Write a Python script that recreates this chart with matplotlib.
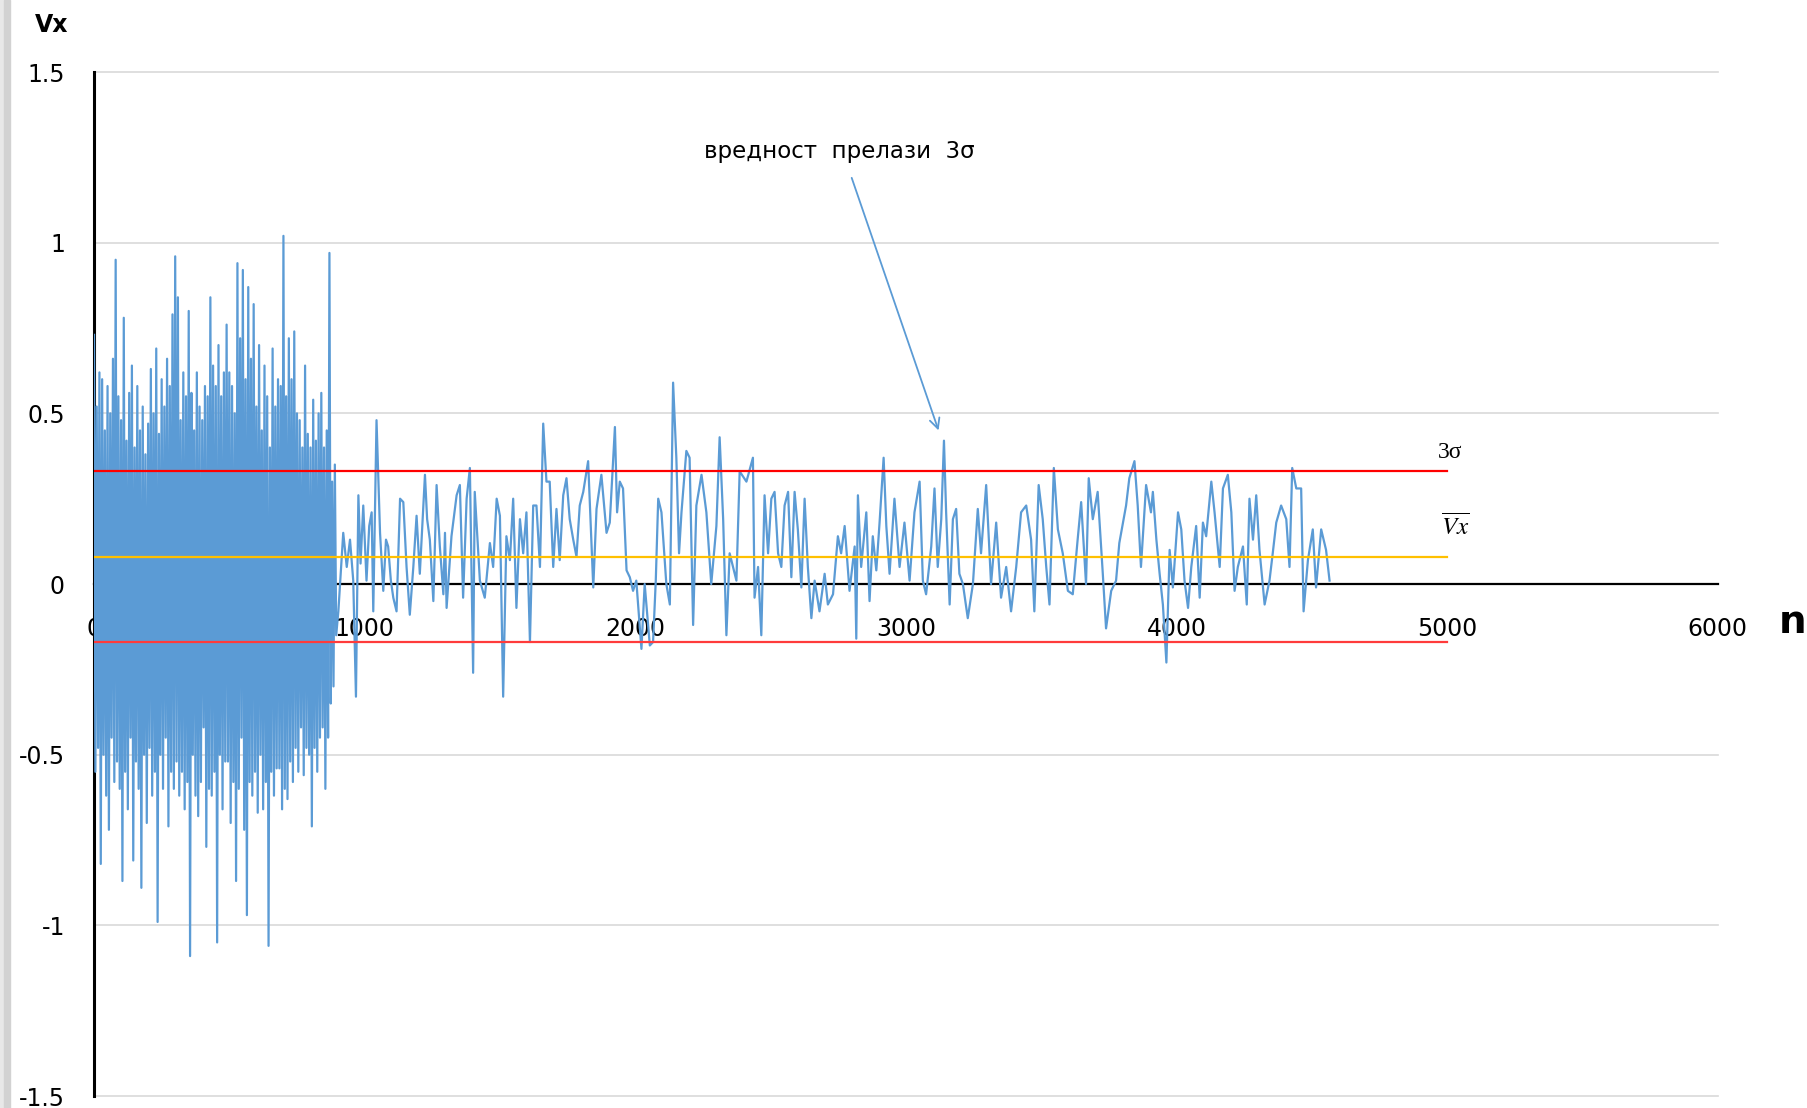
import matplotlib
matplotlib.use("Agg")
import matplotlib.pyplot as plt
from matplotlib.patches import Rectangle

plt.rcParams['axes.unicode_minus'] = False
plt.rcParams['mathtext.fontset'] = 'stix'

# dense start of the record: one reading every 5 samples (n = 0, 5, ... 895)
n_burst = list(range(0, 900, 5))
vx_burst = [
    0.73, -0.55, 0.52, -0.48, 0.62, -0.82, 0.60, -0.50, 0.45, -0.62, 0.58, -0.72, 0.50, -0.45, 0.66, -0.58, 0.95, -0.52, 0.55, -0.60,
    0.48, -0.87, 0.78, -0.55, 0.42, -0.66, 0.56, -0.45, 0.64, -0.81, 0.40, -0.52, 0.58, -0.60, 0.45, -0.89, 0.52, -0.50, 0.38, -0.70,
    0.47, -0.48, 0.63, -0.62, 0.50, -0.55, 0.69, -0.99, 0.44, -0.50, 0.60, -0.60, 0.52, -0.45, 0.66, -0.71, 0.58, -0.55, 0.79, -0.60,
    0.96, -0.52, 0.84, -0.62, 0.48, -0.55, 0.62, -0.66, 0.55, -0.58, 0.80, -1.09, 0.56, -0.50, 0.45, -0.62, 0.62, -0.68, 0.52, -0.58,
    0.48, -0.42, 0.58, -0.77, 0.55, -0.60, 0.84, -0.62, 0.64, -0.55, 0.58, -1.05, 0.70, -0.50, 0.55, -0.66, 0.62, -0.52, 0.76, -0.52,
    0.62, -0.70, 0.58, -0.58, 0.50, -0.87, 0.94, -0.60, 0.72, -0.45, 0.92, -0.72, 0.60, -0.97, 0.87, -0.58, 0.66, -0.62, 0.82, -0.55,
    0.52, -0.67, 0.70, -0.50, 0.45, -0.66, 0.64, -0.58, 0.55, -1.06, 0.40, -0.55, 0.69, -0.62, 0.52, -0.54, 0.60, -0.54, 0.58, -0.66,
    1.02, -0.60, 0.55, -0.63, 0.72, -0.52, 0.60, -0.58, 0.74, -0.48, 0.50, -0.55, 0.48, -0.42, 0.40, -0.56, 0.64, -0.48, 0.44, -0.50,
    0.40, -0.71, 0.54, -0.48, 0.42, -0.55, 0.50, -0.45, 0.56, -0.42, 0.40, -0.60, 0.45, -0.45, 0.97, -0.35, 0.30, -0.30, 0.35, -0.15,
]

# calmer part of the record (n >= 900)
n_calm = [903, 921, 934, 946, 958, 968, 977, 985, 995, 1007, 1017, 1026, 1032, 1044, 1057, 1069, 1079, 1087, 1097, 1106,
          1118, 1131, 1143, 1155, 1167, 1180, 1192, 1204, 1223, 1231, 1241, 1254, 1266, 1278, 1291, 1297, 1303, 1321, 1340, 1352,
          1364, 1377, 1389, 1401, 1407, 1426, 1444, 1463, 1475, 1488, 1500, 1512, 1524, 1537, 1549, 1561, 1574, 1586, 1598, 1611,
          1623, 1635, 1648, 1660, 1672, 1684, 1697, 1709, 1721, 1734, 1746, 1758, 1771, 1783, 1795, 1808, 1826, 1845, 1857, 1875,
          1894, 1906, 1925, 1933, 1943, 1955, 1968, 1980, 1992, 2004, 2023, 2035, 2054, 2066, 2076, 2085, 2097, 2115, 2128, 2140,
          2152, 2162, 2171, 2189, 2201, 2214, 2226, 2245, 2263, 2281, 2300, 2312, 2325, 2337, 2349, 2374, 2386, 2411,
          2435, 2441, 2454, 2466, 2478, 2491, 2503, 2515, 2528, 2540, 2552, 2565, 2577, 2589, 2601, 2614, 2626, 2638, 2651, 2663,
          2681, 2700, 2712, 2731, 2749, 2761, 2774, 2792, 2811, 2817, 2823, 2835, 2854, 2866, 2878, 2891, 2903, 2918, 2928, 2940,
          2958, 2977, 2995, 3014, 3032, 3051, 3063, 3075, 3094, 3106, 3118, 3131, 3141, 3149, 3162, 3174, 3186, 3198, 3211, 3229,
          3248, 3266, 3278, 3297, 3315, 3334, 3352, 3371, 3389, 3408, 3426, 3445, 3463, 3475, 3491, 3506, 3519, 3531, 3547, 3562,
          3580, 3599, 3617, 3635, 3648, 3666, 3676, 3691, 3709, 3728, 3740, 3759, 3777, 3789, 3814, 3826, 3845, 3857, 3869, 3888, 3906,
          3913, 3926, 3938, 3950, 3963, 3975, 3987, 4006, 4018, 4030, 4043, 4055, 4073, 4086, 4098, 4110, 4129, 4141, 4160, 4172,
          4190, 4203, 4215, 4227, 4246, 4260, 4270, 4283, 4295, 4307, 4326, 4344, 4356, 4369, 4387, 4406, 4418, 4428, 4443, 4461,
          4470, 4486, 4504, 4516, 4535, 4553, 4566]
vx_calm = [-0.08, 0.15, 0.05, 0.13, 0.01, -0.33, 0.26, 0.06, 0.23, 0.01, 0.17, 0.21, -0.08, 0.48, 0.15, -0.02, 0.13, 0.11, 0.01, -0.04,
           -0.08, 0.25, 0.24, 0.05, -0.09, 0.05, 0.20, 0.03, 0.32, 0.19, 0.13, -0.05, 0.29, 0.11, -0.03, 0.15, -0.07, 0.14, 0.26, 0.29,
           -0.04, 0.25, 0.34, -0.26, 0.27, 0.01, -0.04, 0.12, 0.05, 0.25, 0.20, -0.33, 0.14, 0.07, 0.25, -0.07, 0.19, 0.09, 0.21, -0.17,
           0.23, 0.23, 0.05, 0.47, 0.30, 0.30, 0.05, 0.22, 0.07, 0.26, 0.31, 0.19, 0.13, 0.08, 0.23, 0.27, 0.36, -0.01, 0.22, 0.32,
           0.15, 0.18, 0.46, 0.21, 0.30, 0.28, 0.04, 0.02, -0.02, 0.01, -0.19, 0.00, -0.18, -0.17, 0.01, 0.25, 0.21, 0.00, -0.06, 0.59,
           0.37, 0.09, 0.21, 0.39, 0.37, -0.12, 0.23, 0.32, 0.21, 0.00, 0.17, 0.43, 0.19, -0.15, 0.09, 0.01, 0.33, 0.30,
           0.37, -0.04, 0.05, -0.15, 0.26, 0.09, 0.25, 0.27, 0.09, 0.05, 0.23, 0.27, 0.02, 0.27, 0.16, -0.01, 0.25, 0.05, -0.10, 0.01,
           -0.08, 0.03, -0.06, -0.03, 0.14, 0.09, 0.17, -0.02, 0.11, -0.16, 0.26, 0.05, 0.21, -0.05, 0.14, 0.04, 0.18, 0.37, 0.17, 0.03,
           0.25, 0.05, 0.18, 0.01, 0.21, 0.30, 0.01, -0.03, 0.11, 0.28, 0.05, 0.19, 0.42, 0.21, -0.06, 0.19, 0.22, 0.03, 0.00, -0.10,
           0.00, 0.22, 0.09, 0.29, 0.00, 0.18, -0.04, 0.05, -0.08, 0.05, 0.21, 0.23, 0.13, -0.08, 0.29, 0.19, 0.05, -0.06, 0.34, 0.16,
           0.09, -0.02, -0.03, 0.13, 0.24, 0.00, 0.31, 0.19, 0.27, 0.03, -0.13, -0.02, 0.01, 0.12, 0.23, 0.31, 0.36, 0.23, 0.05, 0.29, 0.21,
           0.27, 0.13, 0.03, -0.06, -0.23, 0.10, -0.01, 0.21, 0.16, 0.01, -0.07, 0.05, 0.17, -0.04, 0.18, 0.14, 0.30, 0.21, 0.05, 0.28,
           0.32, 0.21, -0.02, 0.05, 0.11, -0.06, 0.25, 0.13, 0.26, 0.10, -0.06, 0.01, 0.09, 0.18, 0.23, 0.19, 0.05, 0.34, 0.28, 0.28,
           -0.08, 0.07, 0.16, -0.01, 0.16, 0.10, 0.01]

assert len(n_burst) == len(vx_burst), (len(n_burst), len(vx_burst))
assert len(n_calm) == len(vx_calm), (len(n_calm), len(vx_calm))

mean_vx = 0.08
three_sigma = 0.25
limit_end = 5000
peak_n, peak_vx = 3141, 0.42

x_ticks = [0, 1000, 2000, 3000, 4000, 5000, 6000]
y_ticks = [-1.5, -1, -0.5, 0, 0.5, 1, 1.5]
y_labels = ['-1.5', '-1', '-0.5', '0', '0.5', '1', '1.5']

n_all = n_burst + n_calm
vx_all = vx_burst + vx_calm

fig = plt.figure(figsize=(18.08, 11.08), dpi=100)
ax = fig.add_axes([0.052, 0.0108, 0.898, 0.9242])

ax.plot(n_all, vx_all, color='#5b9bd5', lw=1.6, zorder=3)
ax.plot([0, limit_end], [mean_vx + three_sigma] * 2, color='#ff0000', lw=1.6, zorder=4)
ax.plot([0, limit_end], [mean_vx - three_sigma] * 2, color='#ff3b3b', lw=1.6, zorder=4)
ax.plot([0, limit_end], [mean_vx] * 2, color='#ffc000', lw=1.6, zorder=4)

ax.set_xlim(0, 6000)
ax.set_ylim(-1.5, 1.5)
ax.set_xticks(x_ticks)
ax.set_xticklabels([str(t) for t in x_ticks])
ax.set_yticks(y_ticks)
ax.set_yticklabels(y_labels)

for s in ['top', 'right']:
    ax.spines[s].set_visible(False)
ax.spines['bottom'].set_position(('data', 0))
ax.spines['bottom'].set_linewidth(1.6)
ax.spines['bottom'].set_zorder(2)
ax.spines['left'].set_linewidth(2.2)

ax.tick_params(length=0, labelsize=17)
ax.tick_params(axis='x', pad=24)
ax.tick_params(axis='y', pad=21)
ax.grid(axis='y', color='#d9d9d9', lw=1.2)
ax.set_axisbelow(True)
for gl in ax.get_ygridlines():
    gl.set_clip_on(False)

# labels on the limit lines
ax.text(limit_end + 10, 0.385, '3σ', family='Liberation Serif', fontsize=17,
        ha='center', va='center')
ax.text(limit_end + 30, 0.17, r'$\overline{Vx}$', fontsize=18,
        ha='center', va='center')

# note pointing at the largest excursion
ax.text(2756, 1.266, 'вредност  прелази  3σ', fontsize=16.5, ha='center', va='center')
ax.annotate('', xy=(peak_n - 20, peak_vx + 0.03), xytext=(2800, 1.19),
            arrowprops=dict(arrowstyle='->', color='#5b9bd5', lw=1.3,
                            shrinkA=0, shrinkB=0, mutation_scale=18))

fig.text(52 / 1808, 1 - 25 / 1108, 'Vx', fontsize=17, fontweight='bold',
         ha='center', va='center')
fig.text(1793 / 1808, 1 - 622 / 1108, 'n', fontsize=28, fontweight='bold',
         ha='center', va='center')

# grey strip along the left edge of the original screenshot
fig.patches.append(Rectangle((0, 0), 4 / 1808, 1, transform=fig.transFigure,
                             color='#e8e8e8', zorder=0))
fig.patches.append(Rectangle((4 / 1808, 0), 6 / 1808, 1, transform=fig.transFigure,
                             color='#d2d2d2', zorder=0))

fig.savefig('out.png', dpi=100)
